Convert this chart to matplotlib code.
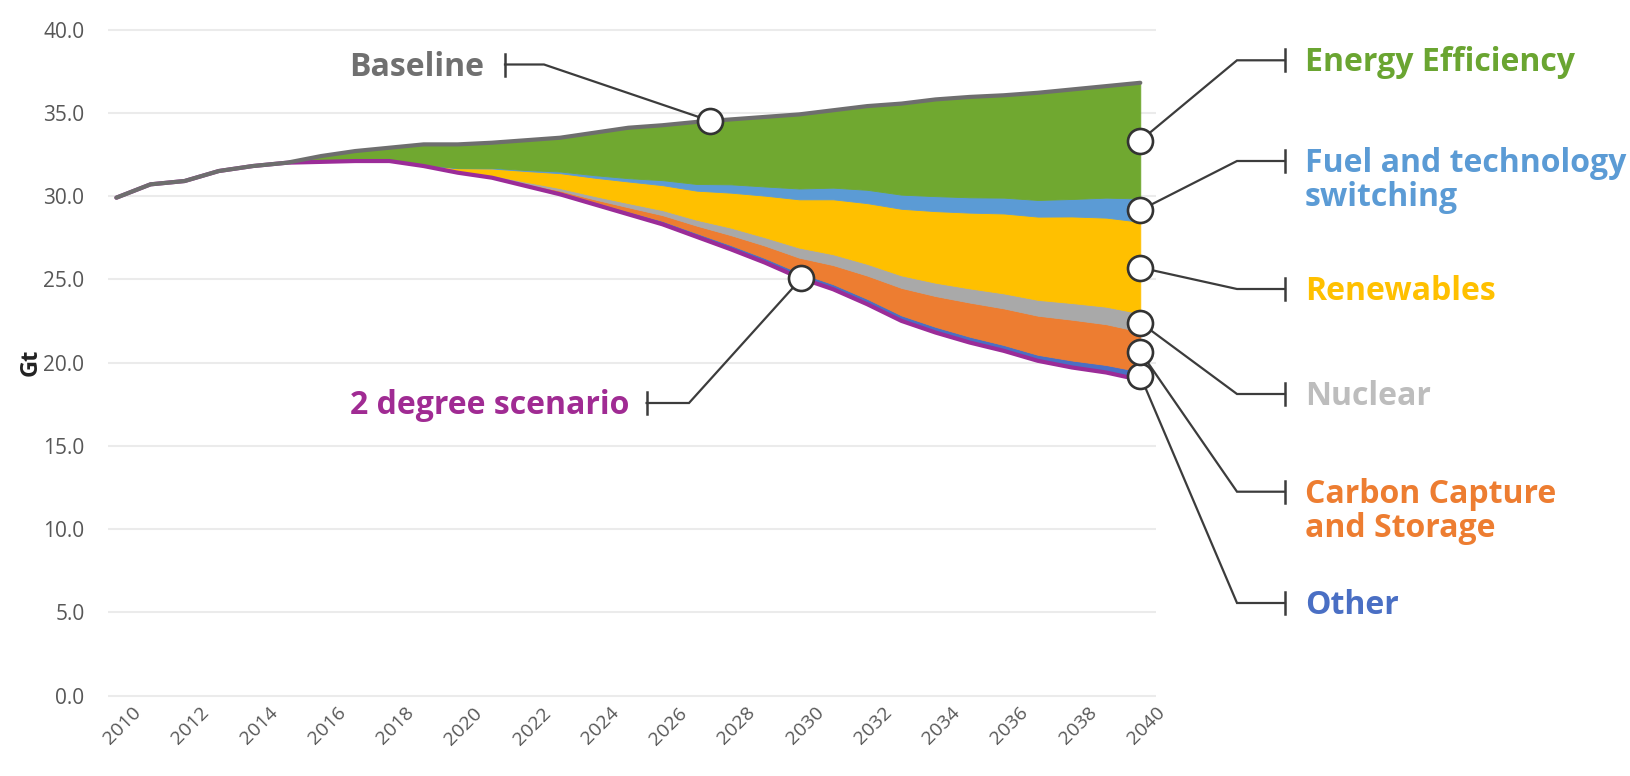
import numpy as np
import matplotlib
matplotlib.use("Agg")
import matplotlib.pyplot as plt
import matplotlib.transforms as mtransforms

plt.rcParams['font.family'] = ['Open Sans', 'DejaVu Sans']

years = list(range(2010, 2041))

baseline = [29.9, 30.7, 30.9, 31.5, 31.8, 32.0, 32.4, 32.7, 32.9, 33.1, 33.1, 33.2, 33.35, 33.5,
            33.8, 34.1, 34.25, 34.45, 34.6, 34.75, 34.9, 35.15, 35.4, 35.55, 35.8, 35.95, 36.05,
            36.2, 36.4, 36.6, 36.8]
two_degree = [29.9, 30.7, 30.9, 31.5, 31.8, 32.0, 32.05, 32.1, 32.1, 31.8, 31.4, 31.1, 30.6, 30.1,
              29.5, 28.9, 28.3, 27.55, 26.8, 26.0, 25.1, 24.4, 23.5, 22.5, 21.8, 21.2, 20.7, 20.1,
              19.7, 19.4, 18.95]
other = [0, 0, 0, 0, 0, 0, 0, 0, 0, 0.02, 0.05, 0.08, 0.10, 0.12, 0.15, 0.17, 0.20, 0.22, 0.25,
         0.27, 0.30, 0.30, 0.32, 0.33, 0.34, 0.35, 0.35, 0.36, 0.42, 0.45, 0.50]
ccs = [0, 0, 0, 0, 0, 0, 0, 0, 0, 0, 0, 0.02, 0.05, 0.10, 0.15, 0.25, 0.35, 0.45, 0.60, 0.75,
       0.90, 1.15, 1.40, 1.65, 1.85, 2.05, 2.20, 2.35, 2.45, 2.45, 2.40]
nuclear = [0, 0, 0, 0, 0, 0, 0, 0, 0, 0, 0.02, 0.05, 0.10, 0.15, 0.20, 0.25, 0.30, 0.35, 0.45,
           0.50, 0.60, 0.65, 0.70, 0.75, 0.80, 0.85, 0.90, 0.95, 1.00, 1.05, 1.10]
renewables = [0, 0, 0, 0, 0, 0, 0, 0, 0, 0.05, 0.20, 0.40, 0.65, 0.90, 1.10, 1.30, 1.50, 1.75,
              2.10, 2.50, 2.90, 3.30, 3.65, 4.00, 4.30, 4.55, 4.80, 5.00, 5.20, 5.35, 5.50]
fuel_switching = [0, 0, 0, 0, 0, 0, 0, 0, 0, 0, 0.02, 0.04, 0.06, 0.10, 0.15, 0.20, 0.30, 0.40,
                  0.50, 0.55, 0.65, 0.70, 0.80, 0.85, 0.90, 0.92, 0.95, 1.00, 1.05, 1.20, 1.40]
efficiency = [0, 0, 0, 0, 0, 0, 0.35, 0.60, 0.80, 1.23, 1.41, 1.51, 1.79, 2.03, 2.55, 3.03, 3.30,
              3.73, 3.90, 4.18, 4.45, 4.65, 5.03, 5.47, 5.81, 6.03, 6.15, 6.44, 6.58, 6.70, 6.95]

y_ticks = [0, 5, 10, 15, 20, 25, 30, 35, 40]
x_ticks = list(range(2010, 2041, 2))

wedge_names = [["Other"], ["Carbon Capture", "and Storage"], ["Nuclear"], ["Renewables"],
               ["Fuel and technology", "switching"], ["Energy Efficiency"]]
wedge_colors = ["#4a6fc4", "#ed7d31", "#a9a9a9", "#ffc000", "#5b9bd5", "#70a830"]
label_colors = ["#4a6fc4", "#ed7d31", "#bdbdbd", "#ffc000", "#5b9bd5", "#6aa531"]

W, H = 1630, 776
fig = plt.figure(figsize=(W / 100, H / 100), dpi=100)

# pixel -> data mapping (full-size reference pixels)
X0, XS, Y0, YS = 116.4, 34.13, 695.5, 16.65


def P(x, y):
    return 2010 + (x - X0) / XS, (Y0 - y) / YS


left_px, right_px, top_px, bot_px = 108, 1156, 20.8, 703.8
ax = fig.add_axes([left_px / W, 1 - bot_px / H, (right_px - left_px) / W, (bot_px - top_px) / H])
ax.set_xlim(P(left_px, 0)[0], P(right_px, 0)[0])
ax.set_ylim(P(0, bot_px)[1], P(0, top_px)[1])

for s in ax.spines.values():
    s.set_visible(False)
ax.set_yticks(y_ticks)
ax.set_yticklabels([f"{v:.1f}" for v in y_ticks])
ax.set_xticks(x_ticks)
ax.set_xticklabels([str(v) for v in x_ticks], rotation=45, ha='center', va='top')
ax.tick_params(axis='both', length=0, labelcolor='#575757')
ax.tick_params(axis='y', pad=17, labelsize=15)
ax.tick_params(axis='x', pad=0, labelsize=14)
shift = mtransforms.ScaledTranslation(6 / 100, 0, fig.dpi_scale_trans)
for lbl in ax.get_xticklabels():
    lbl.set_transform(lbl.get_transform() + shift)
ax.yaxis.grid(True, color='#ebebeb', lw=1.5)
ax.set_axisbelow(True)

layers = [other, ccs, nuclear, renewables, fuel_switching, efficiency]
polys = ax.stackplot(years, two_degree, *layers, colors=['none'] + wedge_colors, lw=0.6, zorder=2)
polys[0].set_edgecolor('none')
polys[0].set_linewidth(0)
for p, c in zip(polys[1:], wedge_colors):
    p.set_edgecolor(c)

ax.plot(years, two_degree, color='#9b2c98', lw=3, zorder=3, solid_capstyle='round')
ax.plot(years, baseline, color='#6e6e6e', lw=3, zorder=4, solid_capstyle='round')

fig.text(31 / W, 1 - 362 / H, "Gt", rotation=90, ha='center', va='center',
         fontsize=17, fontweight='bold', color='#222222')

LC = '#3c3c3c'
BAR = 11
FS = 23
LINE_GAP = 34
CAP_OFF = 11


def leader(circle, pts_px, bar_x_px, bar_y_px):
    xs = [circle[0]] + [P(*p)[0] for p in pts_px]
    ys = [circle[1]] + [P(*p)[1] for p in pts_px]
    ax.plot(xs, ys, color=LC, lw=1.6, clip_on=False, zorder=5, solid_joinstyle='miter')
    bx, by0 = P(bar_x_px, bar_y_px - BAR)
    _, by1 = P(bar_x_px, bar_y_px + BAR)
    ax.plot([bx, bx], [by0, by1], color=LC, lw=1.8, clip_on=False, zorder=5)
    ax.plot([circle[0]], [circle[1]], marker='o', ms=18, mfc='white', mec='#333333', mew=1.9,
            clip_on=False, zorder=6)


def label(lines, x_px, y_px, color, ha):
    for i, line in enumerate(lines):
        tx, ty = P(x_px, y_px + CAP_OFF + i * LINE_GAP)
        ax.text(tx, ty, line, color=color, fontsize=FS, fontweight='bold', ha=ha,
                va='baseline', clip_on=False)


# right side wedge labels
stack_bottom = np.array(two_degree, dtype=float)
elbow_y = [603, 491.7, 394, 289, 161, 60.3]
mids = []
for layer in layers:
    top = stack_bottom + np.array(layer)
    mids.append((stack_bottom[-1] + top[-1]) / 2)
    stack_bottom = top

for name, col, mid, ey in zip(wedge_names, label_colors, mids, elbow_y):
    leader((2040, mid), [(1237, ey), (1285, ey)], 1285, ey)
    label(name, 1305, ey, col, 'left')

# left side labels
bx_year = 2027.4
by_val = float(np.interp(bx_year, years, baseline))
leader((bx_year, by_val), [(544, 64.5), (505, 64.5)], 505, 64.5)
label(["Baseline"], 484, 64.5, '#707070', 'right')

sx_year = 2030.07
sy_val = float(np.interp(sx_year, years, two_degree))
leader((sx_year, sy_val), [(689, 403), (646.6, 403)], 646.6, 403)
label(["2 degree scenario"], 629, 403, '#a02b93', 'right')

fig.savefig("out.png", dpi=100, facecolor='white')
